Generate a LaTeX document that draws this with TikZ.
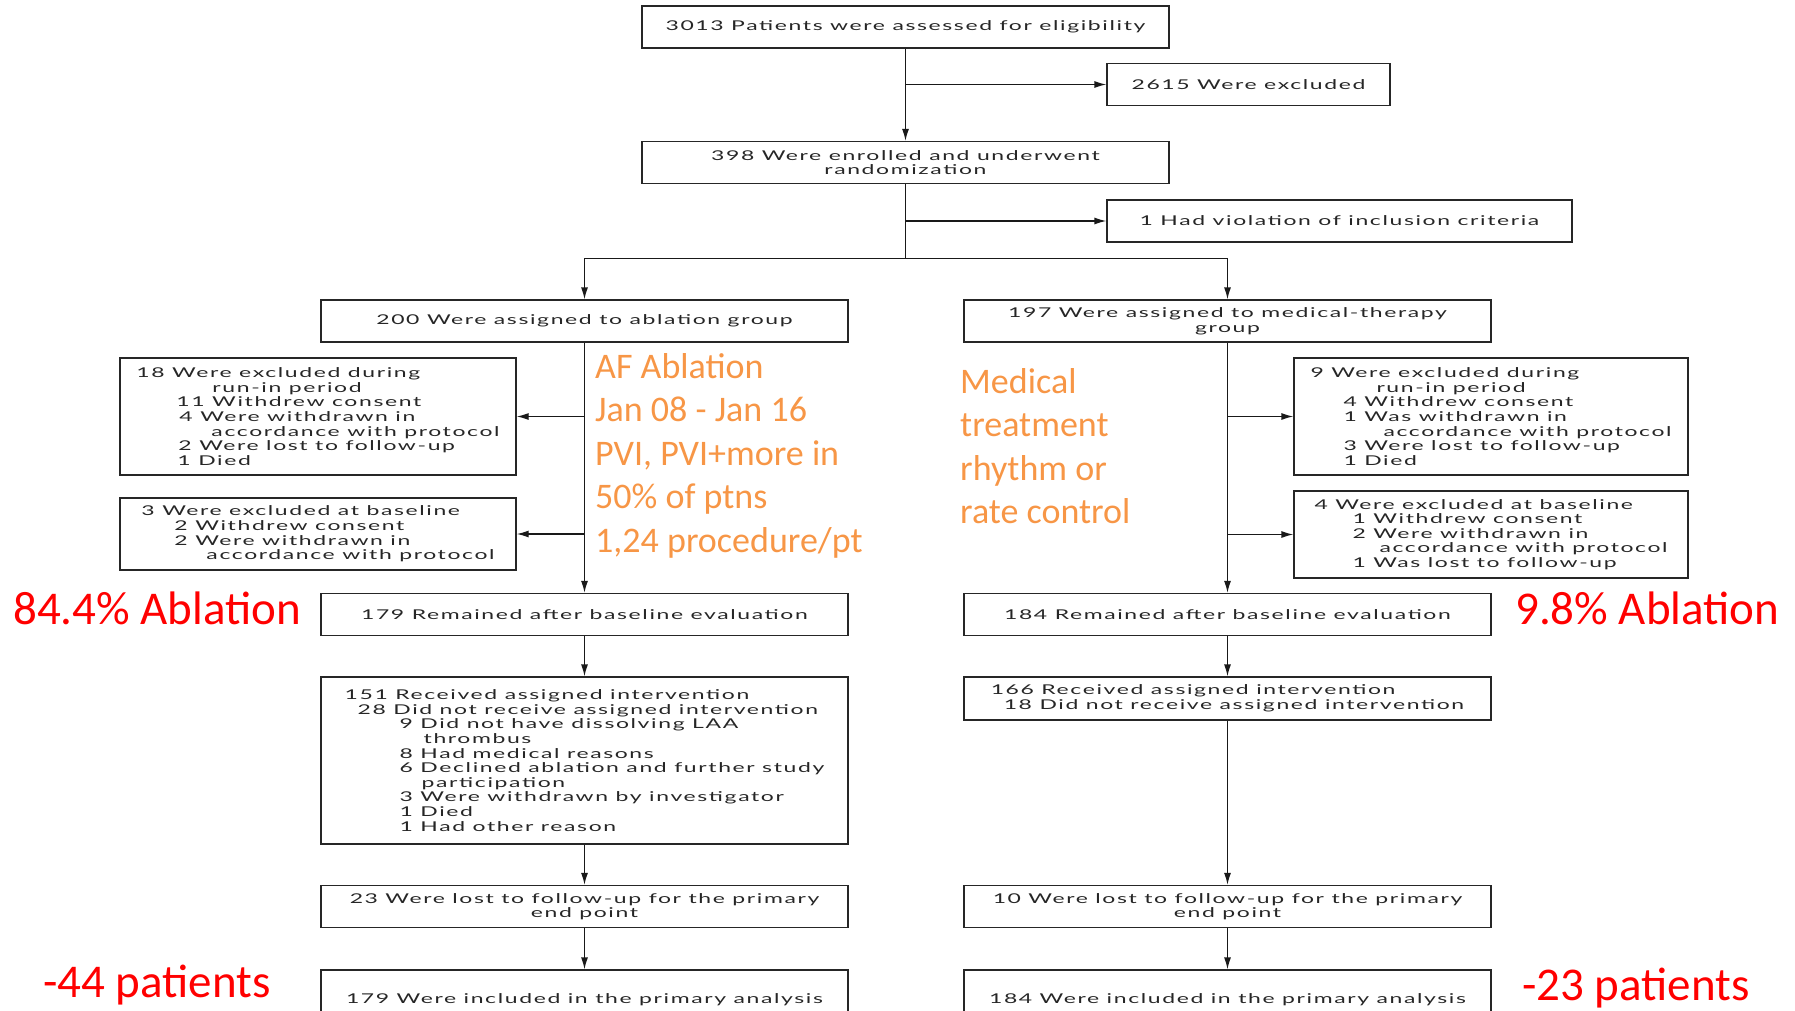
\documentclass[tikz,border=0pt]{standalone}
\usepackage{fontspec}
\usetikzlibrary{arrows.meta,calc}
\newfontfamily\boxfont[FakeStretch=1.7,LetterSpace=12]{Lato}
\newfontfamily\notefont{Carlito}
\definecolor{noteorange}{RGB}{247,150,70}
\definecolor{notered}{RGB}{255,0,0}

\begin{document}
\begin{tikzpicture}[x=1pt,y=-1pt,
  box/.style={draw=black!85, line width=1.3pt, minimum height=42pt, inner sep=0pt,
    text=black!85, font=\boxfont\fontsize{13.5}{14.6}\selectfont, align=center},
  wide/.style={box, minimum width=527pt},
  side/.style={box, align=left},
  arr/.style={draw=black!90, line width=1.3pt, -{Latex[length=12pt,width=7pt]}},
  line/.style={draw=black!90, line width=1.3pt},
  orangenote/.style={inner sep=0pt, anchor=north west, align=left, text=noteorange,
    font=\notefont\fontsize{36}{43.5}\selectfont},
  rednote/.style={inner sep=0pt, anchor=base west, text=notered,
    font=\notefont\fontsize{47}{54}\selectfont}]
\useasboundingbox (0,0) rectangle (1795,1011);
\clip (0,0) rectangle (1795,1011);

% top of the chart
\node[wide] (elig) at (905.5,27) {3013 Patients were assessed for eligibility};
\node[box, minimum width=283pt] (excl) at (1248.5,84.5) {2615 Were excluded};
\node[wide] (enrol) at (905.5,162.5) {398 Were enrolled and underwent\\randomization};
\node[box, minimum width=465pt] (viol) at (1339.5,221) {1 Had violation of inclusion criteria};

\draw[arr] (elig.south) -- (enrol.north);
\draw[arr] (elig.south |- excl.west) -- (excl.west);
\draw[arr] (enrol.south |- viol.west) -- (viol.west);
\coordinate (split) at ($(enrol.south)+(0,74)$);

% ablation arm
\node[wide] (abl) at (584.5,321) {200 Were assigned to ablation group};
\node[side, minimum width=396pt, minimum height=117pt] (runL) at (318,416.5) {18 Were excluded during\\
\hspace*{76pt}run-in period\\
\hspace*{40pt}11 Withdrew consent\\
\hspace*{43pt}4 Were withdrawn in\\
\hspace*{75pt}accordance with protocol\\
\hspace*{42pt}2 Were lost to follow-up\\
\hspace*{41pt}1 Died};
\node[side, minimum width=396pt, minimum height=72pt] (baseL) at (318,534) {3 Were excluded at baseline\\
\hspace*{33pt}2 Withdrew consent\\
\hspace*{33pt}2 Were withdrawn in\\
\hspace*{65pt}accordance with protocol};
\node[wide] (remL) at (584.5,614.5) {179 Remained after baseline evaluation};
\node[side, minimum width=527pt, minimum height=167pt] (recvL) at (584.5,760.5) {151 Received assigned intervention\\
\hspace*{13pt}28 Did not receive assigned intervention\\
\hspace*{55pt}9 Did not have dissolving LAA\\
\hspace*{79pt}thrombus\\
\hspace*{55pt}8 Had medical reasons\\
\hspace*{55pt}6 Declined ablation and further study\\
\hspace*{77pt}participation\\
\hspace*{55pt}3 Were withdrawn by investigator\\
\hspace*{55pt}1 Died\\
\hspace*{55pt}1 Had other reason};
\node[wide] (lostL) at (584.5,906.5) {23 Were lost to follow-up for the primary\\end point};
\node[wide, minimum height=60pt] (inclL) at (584.5,1000) {179 Were included in the primary analysis};

% medical-therapy arm
\node[wide] (med) at (1227.5,321) {197 Were assigned to medical-therapy\\group};
\node[side, minimum width=394pt, minimum height=117pt] (runR) at (1491,416.5) {9 Were excluded during\\
\hspace*{66pt}run-in period\\
\hspace*{33pt}4 Withdrew consent\\
\hspace*{33pt}1 Was withdrawn in\\
\hspace*{73pt}accordance with protocol\\
\hspace*{33pt}3 Were lost to follow-up\\
\hspace*{33pt}1 Died};
\node[side, minimum width=394pt, minimum height=87pt] (baseR) at (1491,534.5) {4 Were excluded at baseline\\
\hspace*{38pt}1 Withdrew consent\\
\hspace*{38pt}2 Were withdrawn in\\
\hspace*{65pt}accordance with protocol\\
\hspace*{38pt}1 Was lost to follow-up};
\node[wide] (remR) at (1227.5,614.5) {184 Remained after baseline evaluation};
\node[side, minimum width=527pt, minimum height=43pt] (recvR) at (1227.5,698.5) {166 Received assigned intervention\\
\hspace*{13pt}18 Did not receive assigned intervention};
\node[wide] (lostR) at (1227.5,906.5) {10 Were lost to follow-up for the primary\\end point};
\node[wide, minimum height=60pt] (inclR) at (1227.5,1000) {184 Were included in the primary analysis};

% connectors
\draw[line] (enrol.south) -- (split);
\draw[arr] (split) -| (abl.north);
\draw[arr] (split) -| (med.north);
\draw[arr] (abl.south) -- (remL.north);
\draw[arr] (abl.south |- runL.east) -- (runL.east);
\draw[arr] (abl.south |- baseL.east) -- (baseL.east);
\draw[arr] (remL) -- (recvL);
\draw[arr] (recvL) -- (lostL);
\draw[arr] (lostL) -- (inclL);
\draw[arr] (med.south) -- (remR.north);
\draw[arr] (med.south |- runR.west) -- (runR.west);
\draw[arr] (med.south |- baseR.west) -- (baseR.west);
\draw[arr] (remR) -- (recvR);
\draw[arr] (recvR) -- (lostR);
\draw[arr] (lostR) -- (inclR);

% notes
\node[orangenote] (afnote) at (595,353) {AF Ablation\\Jan 08 - Jan 16\\PVI, PVI+more in\\50\% of ptns\\1,24 procedure/pt};
\node[orangenote] (mednote) at (960,368) {Medical\\treatment\\rhythm or\\rate control};
\node[rednote] (ablL) at (13,624) {84.4\% Ablation};
\node[rednote] (ablR) at (1515,624) {9.8\% Ablation};
\node[rednote] (lossL) at (43,997) {-44 patients};
\node[rednote] (lossR) at (1522,1000) {-23 patients};
\end{tikzpicture}
\end{document}
